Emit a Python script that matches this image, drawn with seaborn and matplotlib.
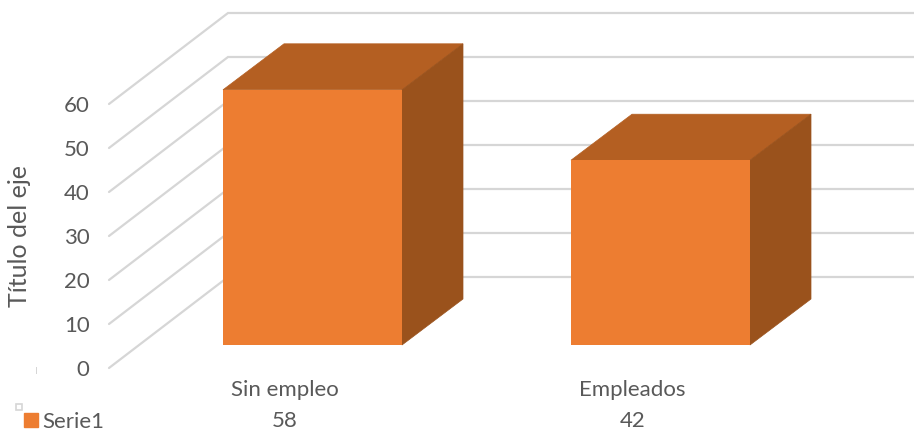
import matplotlib
matplotlib.use("Agg")
import matplotlib.pyplot as plt
from matplotlib.patches import Polygon, Patch, Rectangle
import pandas as pd
import seaborn as sns

categories = ["Sin empleo", "Empleados"]
values = [58, 42]
series_name = "Serie1"
axis_title = "Título del eje"
y_ticks = [0, 10, 20, 30, 40, 50, 60]

FRONT = "#ED7D31"
TOP = "#B45F22"
SIDE = "#9A521C"
GRID = "#D6D6D6"
TEXT = "#595959"
W, H = 914, 432

sns.set_theme(style="white")
plt.rcParams["font.family"] = ["Lato", "DejaVu Sans"]

fig = plt.figure(figsize=(W / 100, H / 100), dpi=100, facecolor="white")


def box(x0, x1, ytop, ybot):
    return [x0 / W, 1 - ybot / H, (x1 - x0) / W, (ybot - ytop) / H]


# Back wall axes: value scale of the front plane, tick labels and gridlines
wall = fig.add_axes(box(109, 914, 104, 368))
wall.set_xlim(109, 914)
wall.set_ylim(0, 60)
wall.patch.set_visible(False)
sns.despine(ax=wall, left=True, bottom=True, right=True, top=True)
wall.set_xticks([])
wall.set_yticks(y_ticks)
wall.tick_params(axis="y", length=0, pad=14, labelsize=16, labelcolor=TEXT)
px_unit = (368 - 104) / 60
rise = 91 / px_unit
for v in y_ticks:
    wall.plot([109, 228, 914], [v, v + rise, v + rise], color=GRID, lw=1.6,
              clip_on=False, solid_joinstyle="miter", zorder=1)
fig.text(20 / W, 1 - 236 / H, axis_title, rotation=90, ha="center", va="center",
         color=TEXT, fontsize=18)

# Bars axes
ax = fig.add_axes(box(109, 914, 81, 345))
ax.patch.set_visible(False)
df = pd.DataFrame({"cat": categories, "val": values})
sns.barplot(data=df, x="cat", y="val", ax=ax, color=FRONT, saturation=1,
            width=179 / 348, zorder=3, linewidth=0)
sp = 348.0
label_shift = 28 / sp
ax.set_xticks([i - label_shift for i in range(len(categories))], categories)
ax.set_xlim((109 - 312.5) / sp, (914 - 312.5) / sp)
ax.set_ylim(0, 60)
sns.despine(ax=ax, left=True, bottom=True, right=True, top=True)
ax.set_xlabel("")
ax.set_ylabel("")
ax.set_yticks([])
ax.tick_params(axis="x", length=0, pad=25, labelsize=16, labelcolor=TEXT)

dx = 61 / sp
dy = 46 / (264 / 60)
for bar in list(ax.patches):
    x0, x1 = bar.get_x(), bar.get_x() + bar.get_width()
    h = bar.get_height()
    bar.set_clip_on(False)
    ax.add_patch(Polygon([(x0, h), (x1, h), (x1 + dx, h + dy), (x0 + dx, h + dy)],
                         closed=True, fc=TOP, ec=TOP, lw=0.5, clip_on=False, zorder=2.9))
    ax.add_patch(Polygon([(x1, 0), (x1 + dx, dy), (x1 + dx, h + dy), (x1, h)],
                         closed=True, fc=SIDE, ec=SIDE, lw=0.5, clip_on=False, zorder=2.9))

# Data-table row under the categories
trans = ax.get_xaxis_transform()
for i, v in enumerate(values):
    ax.text(i - label_shift, -76 / 264, str(v), transform=trans,
            ha="center", va="center", color=TEXT, fontsize=16, clip_on=False)

# Legend swatch and small handles
fig.legend(handles=[Patch(facecolor=FRONT, edgecolor=FRONT, label=series_name)],
           loc="center left", bbox_to_anchor=(24 / W, 1 - 422 / H), frameon=False,
           handlelength=0.62, handleheight=0.62, handletextpad=0.22,
           labelcolor=TEXT, fontsize=16, borderpad=0, borderaxespad=0)
fig.add_artist(Rectangle((15.5 / W, 1 - 410 / H), 6 / W, 6 / H, transform=fig.transFigure,
                         fc="white", ec=GRID, lw=1.2))
fig.add_artist(Rectangle((35.5 / W, 1 - 374 / H), 1.5 / W, 7 / H, transform=fig.transFigure,
                         fc=GRID, ec="none"))

fig.savefig("out.png", dpi=100, facecolor="white")
